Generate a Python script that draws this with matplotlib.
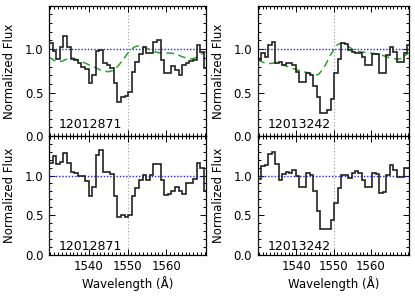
import numpy as np
import matplotlib
matplotlib.use("Agg")
import matplotlib.pyplot as plt
from matplotlib.ticker import FixedLocator, MultipleLocator

# bin centres (Angstrom), same grid for both objects
wave = [1530.17, 1531.10, 1532.03, 1532.96, 1533.89, 1534.82, 1535.75, 1536.68,
        1537.61, 1538.54, 1539.47, 1540.40, 1541.33, 1542.26, 1543.19, 1544.12,
        1545.05, 1545.98, 1546.91, 1547.84, 1548.77, 1549.70, 1550.63, 1551.56,
        1552.49, 1553.42, 1554.35, 1555.28, 1556.21, 1557.14, 1558.07, 1559.00,
        1559.93, 1560.86, 1561.79, 1562.72, 1563.65, 1564.58, 1565.51, 1566.44,
        1567.37, 1568.30, 1569.23, 1570.16]

# 12012871: raw flux and continuum-normalised flux
flux_a = [1.07, 0.98, 0.89, 1.02, 1.15, 1.02, 0.89, 0.87, 0.84, 0.80, 0.77, 0.61,
          0.70, 0.98, 0.99, 0.84, 0.82, 0.78, 0.61, 0.39, 0.45, 0.46, 0.51, 0.74,
          0.85, 0.94, 1.02, 0.96, 0.96, 1.08, 1.10, 0.87, 0.72, 0.72, 0.81, 0.76,
          0.70, 0.82, 0.84, 0.86, 0.88, 1.05, 0.97, 0.78]
norm_a = [1.16, 1.25, 1.15, 1.17, 1.29, 1.16, 1.05, 1.03, 1.00, 0.99, 0.93, 0.74,
          0.86, 1.26, 1.32, 1.05, 1.04, 1.02, 0.74, 0.48, 0.50, 0.48, 0.50, 0.74,
          0.84, 0.95, 1.01, 0.95, 1.01, 1.15, 1.15, 0.95, 0.76, 0.77, 0.80, 0.86,
          0.80, 0.77, 0.90, 0.91, 0.96, 1.16, 1.09, 0.80]

# 12013242
flux_b = [0.88, 0.95, 0.91, 1.05, 1.08, 0.84, 0.85, 0.82, 0.84, 0.84, 0.82, 0.74,
          0.62, 0.62, 0.72, 0.70, 0.57, 0.45, 0.26, 0.26, 0.30, 0.43, 0.72, 0.89,
          1.07, 1.06, 0.99, 0.97, 0.95, 0.95, 0.91, 0.82, 0.82, 0.94, 0.94, 0.72,
          0.72, 0.93, 1.03, 0.97, 0.85, 0.85, 0.95, 1.05]
norm_b = [0.96, 1.12, 1.13, 1.27, 1.30, 1.14, 0.95, 1.02, 1.05, 1.03, 1.07, 0.99,
          0.86, 0.86, 1.03, 1.01, 0.80, 0.55, 0.33, 0.32, 0.33, 0.44, 0.65, 0.84,
          1.01, 1.01, 0.97, 1.03, 1.06, 1.03, 0.95, 0.86, 0.86, 1.03, 1.02, 0.78,
          0.79, 1.01, 1.13, 1.07, 0.98, 0.98, 1.10, 1.10]

# continuum models (green dashed)
cont_wave = [1529.7, 1531, 1532, 1533, 1534, 1535, 1536, 1537, 1538, 1539, 1540,
             1541, 1542, 1543, 1544, 1545, 1546, 1547, 1548, 1549, 1550, 1551,
             1552, 1553, 1554, 1555, 1556, 1557, 1558, 1559, 1560, 1561, 1562,
             1563, 1564, 1565, 1566, 1567, 1568, 1569, 1570.2]
cont_a = [0.91, 0.87, 0.855, 0.86, 0.88, 0.90, 0.895, 0.88, 0.86, 0.84, 0.82,
          0.80, 0.78, 0.76, 0.745, 0.74, 0.75, 0.78, 0.83, 0.89, 0.95, 1.00,
          1.03, 1.04, 1.03, 1.01, 0.99, 0.97, 0.96, 0.955, 0.955, 0.955, 0.95,
          0.935, 0.915, 0.90, 0.89, 0.89, 0.91, 0.94, 0.97]
cont_b = [0.88, 0.85, 0.835, 0.835, 0.84, 0.84, 0.825, 0.81, 0.795, 0.78, 0.765,
          0.75, 0.74, 0.73, 0.715, 0.70, 0.71, 0.76, 0.83, 0.92, 0.99, 1.05,
          1.07, 1.06, 1.03, 1.00, 0.98, 0.97, 0.965, 0.96, 0.955, 0.95, 0.94,
          0.93, 0.915, 0.90, 0.89, 0.885, 0.89, 0.92, 0.96]

names = ["12012871", "12013242"]
line_center = 1550.0
xlim = (1529.7, 1570.2)

plt.rcParams['font.family'] = ['DejaVu Sans']
plt.rcParams['font.size'] = 8.5

fig = plt.figure(figsize=(4.15, 2.97), dpi=100)
W, H = 415.0, 297.0
cols = [(49.0, 156.7), (257.7, 151.3)]
rows = [(5.7, 130.3), (136.0, 118.7)]

data = [
    [(flux_a, cont_a), (flux_b, cont_b)],
    [(norm_a, None), (norm_b, None)],
]

w = np.array(wave)
step = np.diff(w)
edges = np.concatenate([[w[0] - step[0] / 2], (w[:-1] + w[1:]) / 2, [w[-1] + step[-1] / 2]])

for r, (top, h) in enumerate(rows):
    for c, (left, wd) in enumerate(cols):
        ax = fig.add_axes([left / W, (H - top - h) / H, wd / W, h / H])
        vals, cont = data[r][c]
        ax.axvline(line_center, color='#999999', lw=0.8, ls=(0, (1, 2)), zorder=1)
        ax.axhline(1.0, color='#1f1fee', lw=1.0, ls=(0, (1, 1.3)), zorder=2)
        if cont is not None:
            ax.plot(cont_wave, cont, color='#2f9e2f', lw=1.1, ls=(0, (5, 3)), zorder=3)
        ax.stairs(vals, edges, color='#222222', lw=1.2, zorder=4)
        ax.set_xlim(*xlim)
        ax.set_ylim(0, 1.5)
        ax.xaxis.set_major_locator(FixedLocator([1540, 1550, 1560]))
        ax.xaxis.set_minor_locator(MultipleLocator(1))
        ax.yaxis.set_major_locator(FixedLocator([0.0, 0.5, 1.0]))
        ax.yaxis.set_minor_locator(MultipleLocator(0.1))
        ax.yaxis.set_major_formatter(matplotlib.ticker.FormatStrFormatter('%.1f'))
        ax.tick_params(which='both', direction='in', top=True, right=True, width=0.7)
        ax.tick_params(which='major', length=4, pad=4)
        ax.tick_params(which='minor', length=2)
        for s in ax.spines.values():
            s.set_linewidth(0.9)
        ax.set_ylabel("Normalized Flux", labelpad=6)
        ytxt = 0.085 if r == 0 else 0.068
        ax.text(0.063, ytxt, names[c], transform=ax.transAxes, va='center',
                ha='left', fontsize=9)
        if r == 0:
            ax.tick_params(labelbottom=False)
        else:
            ax.set_xlabel("Wavelength (Å)", labelpad=2)

fig.savefig("out.png", dpi=100)
